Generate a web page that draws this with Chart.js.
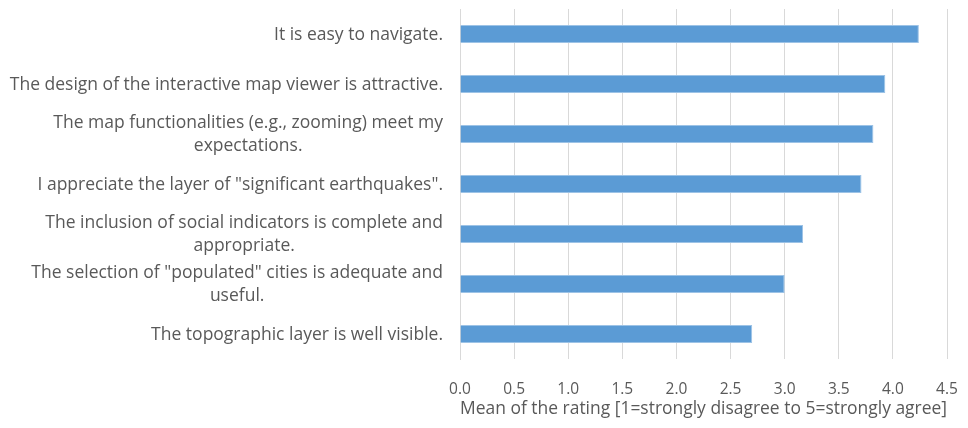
<!DOCTYPE html>
<html lang="en">
<head>
    <meta charset="UTF-8">
    <title>Map viewer rating</title>
    <style>
        body {
            margin: 0;
            overflow: hidden;
            background-color: #fff;
        }
    </style>
</head>
<body>
    <canvas id="ratingChart" width="968" height="428"></canvas>

    <script src="https://cdn.jsdelivr.net/npm/chart.js"></script>
    <script>
        // Survey statements (split into the lines they are drawn on)
        const statements = [
            ['It is easy to navigate.'],
            ['The design of the interactive map viewer is attractive.'],
            ['The map functionalities (e.g., zooming) meet my', 'expectations.'],
            ['I appreciate the layer of "significant earthquakes".'],
            ['The inclusion of social indicators is complete and', 'appropriate.'],
            ['The selection of "populated" cities is adequate and', 'useful.'],
            ['The topographic layer is well visible.']
        ];
        // Mean rating per statement
        const meanRating = [4.24, 3.93, 3.82, 3.71, 3.17, 3.0, 2.70];
        const xTicks = [0, 0.5, 1, 1.5, 2, 2.5, 3, 3.5, 4, 4.5];

        const textColor = '#595959';
        const fontFamily = '"Open Sans", Lato, sans-serif';

        // Draws the statement labels: right-aligned block, extra lines centred under the first
        const statementLabels = {
            id: 'statementLabels',
            afterDraw(chart) {
                const ctx = chart.ctx;
                const yScale = chart.scales.y;
                const right = chart.chartArea.left - 17;
                const lineHeight = 23;
                ctx.save();
                ctx.font = '17.5px ' + fontFamily;
                ctx.fillStyle = textColor;
                ctx.textAlign = 'center';
                ctx.textBaseline = 'middle';
                statements.forEach((lines, i) => {
                    const widest = Math.max(...lines.map(l => ctx.measureText(l).width));
                    const cx = right - widest / 2;
                    const yc = yScale.getPixelForTick(i) + 1;
                    const start = yc - (lines.length - 1) * lineHeight / 2;
                    lines.forEach((line, k) => ctx.fillText(line, cx, start + k * lineHeight));
                });
                ctx.restore();
            }
        };

        const ctx = document.getElementById('ratingChart').getContext('2d');
        new Chart(ctx, {
            type: 'bar',
            data: {
                labels: statements.map(s => s.join(' ')),
                datasets: [{
                    data: meanRating,
                    backgroundColor: '#5B9BD5',
                    borderColor: '#9DC3E6',
                    borderWidth: 1,
                    borderSkipped: 'start',
                    barPercentage: 0.36,
                    categoryPercentage: 1
                }]
            },
            options: {
                indexAxis: 'y',
                responsive: false,
                animation: false,
                layout: {
                    padding: { left: 452, top: 9, right: 21, bottom: 8 }
                },
                plugins: {
                    legend: { display: false },
                    tooltip: { enabled: false }
                },
                scales: {
                    x: {
                        min: 0,
                        max: 4.5,
                        afterBuildTicks: axis => {
                            axis.ticks = xTicks.map(v => ({ value: v }));
                        },
                        afterFit: axis => {
                            // fixed axis band; side room comes from the layout padding
                            axis.height = 61;
                            axis.paddingLeft = 0;
                            axis.paddingRight = 0;
                        },
                        grid: {
                            color: '#d9d9d9',
                            lineWidth: 1,
                            drawTicks: false
                        },
                        border: { display: false },
                        ticks: {
                            color: textColor,
                            font: { family: fontFamily, size: 15.5 },
                            padding: 21,
                            maxRotation: 0,
                            callback: v => Number(v).toFixed(1)
                        },
                        title: {
                            display: true,
                            text: 'Mean of the rating [1=strongly disagree to 5=strongly agree]',
                            color: textColor,
                            font: { family: fontFamily, size: 17.5 },
                            padding: { top: 0, bottom: 0 }
                        }
                    },
                    y: {
                        grid: { display: false },
                        border: { display: true, color: '#d9d9d9' },
                        ticks: { display: false }
                    }
                }
            },
            plugins: [statementLabels]
        });
    </script>
</body>
</html>
